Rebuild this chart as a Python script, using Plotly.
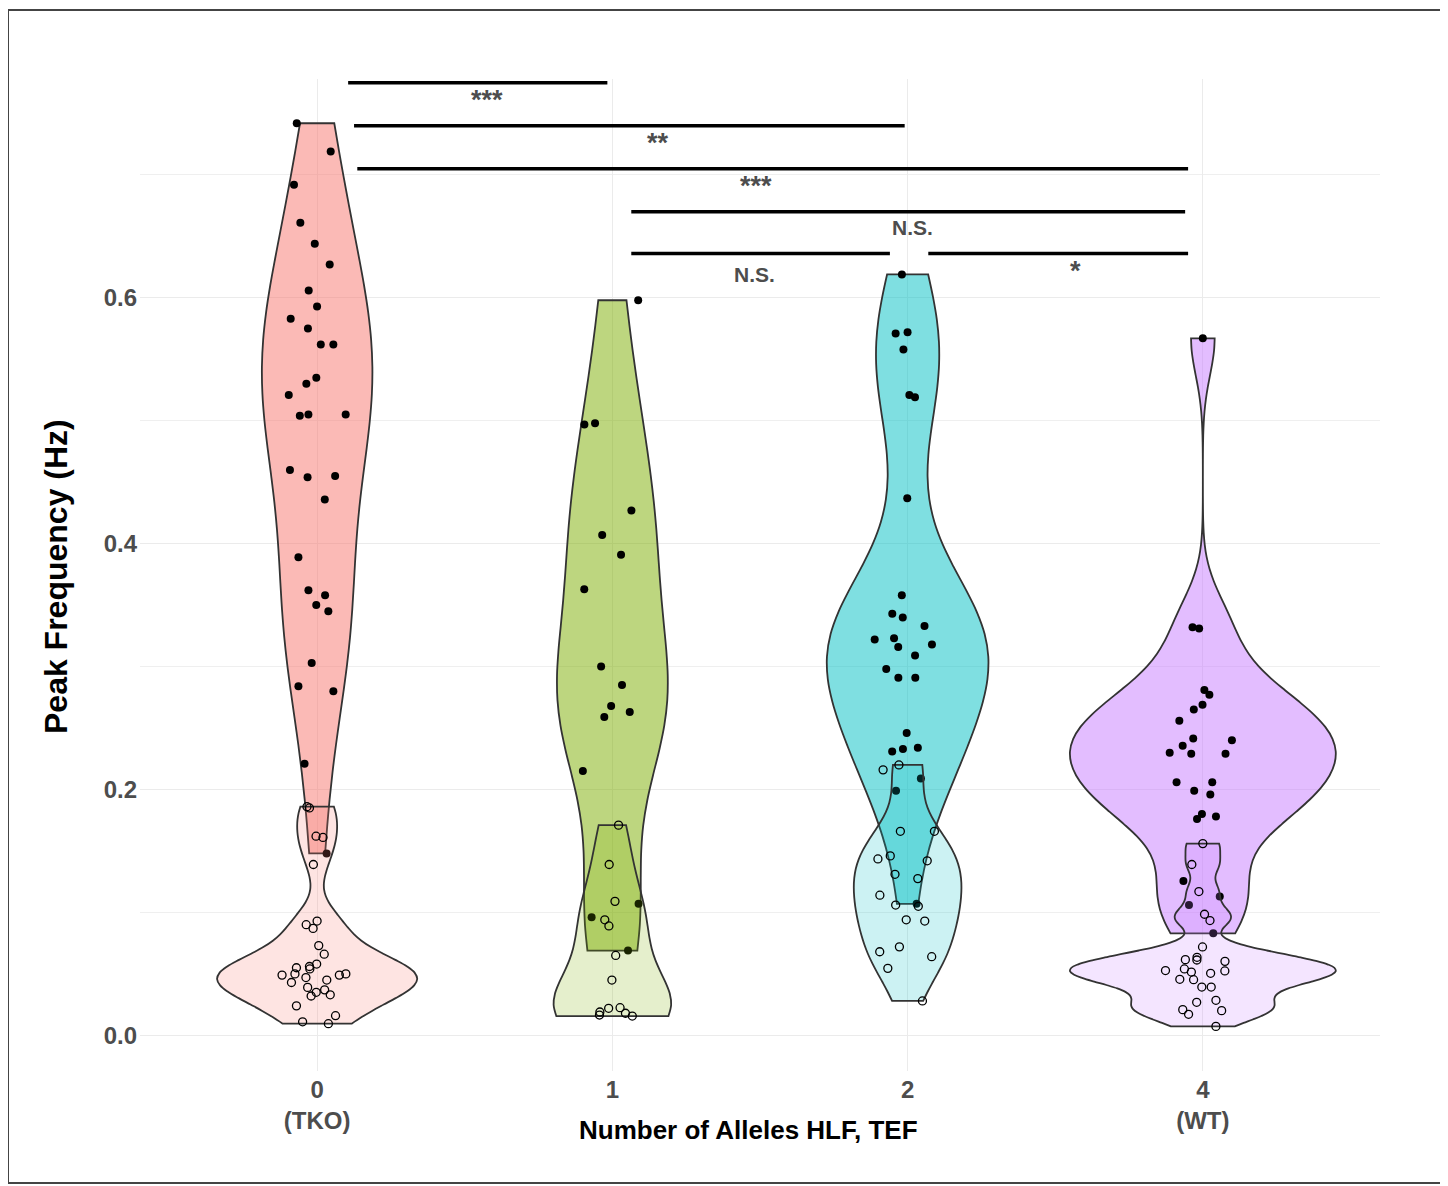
import numpy as np
import plotly.graph_objects as go

# ---------------- data ----------------
categories = ["0", "1", "2", "4"]
tick_text = ["0<br>(TKO)", "1", "2", "4<br>(WT)"]

g0_high = [0.742, 0.719, 0.692, 0.661, 0.644, 0.627, 0.606, 0.593, 0.583, 0.575, 0.562, 0.562,
           0.535, 0.530, 0.521, 0.505, 0.504, 0.505, 0.455, 0.460, 0.454, 0.436, 0.389, 0.358,
           0.350, 0.362, 0.345, 0.303, 0.280, 0.284, 0.221, 0.148]
g0_low = [0.185, 0.186, 0.162, 0.161, 0.139, 0.087, 0.090, 0.093, 0.073, 0.066, 0.056, 0.054,
          0.055, 0.058, 0.050, 0.050, 0.049, 0.049, 0.043, 0.045, 0.047, 0.032, 0.033, 0.039,
          0.035, 0.037, 0.024, 0.016, 0.011, 0.0095]

g1_high = [0.598, 0.498, 0.497, 0.427, 0.407, 0.391, 0.363, 0.300, 0.285, 0.268, 0.263, 0.259,
           0.215, 0.107, 0.096, 0.069]
g1_low = [0.171, 0.139, 0.109, 0.094, 0.089, 0.065, 0.045, 0.0225, 0.022, 0.019, 0.018, 0.0165,
          0.0157]

g2_high = [0.619, 0.571, 0.572, 0.558, 0.521, 0.519, 0.437, 0.358, 0.340, 0.333, 0.323, 0.316,
           0.322, 0.318, 0.309, 0.343, 0.298, 0.291, 0.291, 0.246, 0.233, 0.234, 0.231, 0.209,
           0.199, 0.107]
g2_low = [0.220, 0.216, 0.166, 0.166, 0.146, 0.1435, 0.142, 0.1275, 0.131, 0.114, 0.105, 0.106,
          0.093, 0.094, 0.072, 0.068, 0.064, 0.0545, 0.028]

g4_high = [0.567, 0.332, 0.331, 0.277, 0.281, 0.269, 0.265, 0.256, 0.2415, 0.240, 0.2355, 0.230,
           0.229, 0.229, 0.206, 0.206, 0.196, 0.199, 0.176, 0.178, 0.180, 0.1256, 0.113, 0.106,
           0.083]
g4_low = [0.156, 0.139, 0.117, 0.0985, 0.0934, 0.0719, 0.0616, 0.0635, 0.0602, 0.0613, 0.054,
          0.0527, 0.0515, 0.0524, 0.0505, 0.0456, 0.0453, 0.0393, 0.0393, 0.0285, 0.0269, 0.0209,
          0.0201, 0.0171, 0.0073]

high_series = [g0_high, g1_high, g2_high, g4_high]
low_series = [g0_low, g1_low, g2_low, g4_low]

base_colors = [(248, 118, 109), (124, 174, 0), (0, 191, 196), (199, 124, 255)]

# significance comparisons (x in category-position units, y in Hz)
sig_x0 = [0.105, 0.125, 0.136, 1.064, 1.064, 2.07]
sig_x1 = [0.983, 1.99, 2.95, 2.94, 1.94, 2.95]
sig_y = [0.775, 0.740, 0.705, 0.670, 0.636, 0.636]
sig_labels = ["***", "**", "***", "N.S.", "N.S.", "*"]
sig_label_x = [0.576, 1.156, 1.485, 2.017, 1.481, 2.57]
sig_label_y = [0.761, 0.726, 0.691, 0.657, 0.619, 0.622]

# ---------------- helpers ----------------
def bw_nrd0(x):
    x = np.asarray(x, dtype=float)
    hi = np.std(x, ddof=1)
    q75, q25 = np.percentile(x, [75, 25])
    lo = min(hi, (q75 - q25) / 1.34)
    if not lo:
        lo = hi or abs(x[0]) or 1.0
    return 0.9 * lo * len(x) ** (-0.2)


def kde_max(x, bw):
    x = np.asarray(x, dtype=float)
    grid = np.linspace(x.min(), x.max(), 512)
    z = (grid[:, None] - x[None, :]) / bw
    dens = np.exp(-0.5 * z ** 2).sum(axis=1) / (len(x) * bw * np.sqrt(2 * np.pi))
    return dens.max()


OFF = 8  # page body margin of the html page
W, H = 1448 - OFF, 1186 - OFF
# panel edges in page pixels
P_LEFT, P_RIGHT, P_TOP, P_BOTTOM = 140, 1380, 79, 1071
L, R, T, B = P_LEFT - OFF, (W + OFF) - P_RIGHT, P_TOP - OFF, (H + OFF) - P_BOTTOM
PW, PH = W - L - R, H - T - B


def px_x(px):
    return (px - OFF - L) / PW


def px_y(py):
    return (H - B - (py - OFF)) / PH


FONT = "Liberation Sans, Arial, Helvetica, sans-serif"
GREY = "#4D4D4D"
FULL_WIDTH = 0.9
JITTER_HALF = 0.13  # half-width of the point jitter, in category units


def layer_widths(series):
    bws = [bw_nrd0(v) for v in series]
    peaks = [kde_max(v, bw) for v, bw in zip(series, bws)]
    top = max(peaks)
    return bws, [FULL_WIDTH * p / top for p in peaks]


fig = go.Figure()

high_bw, high_w = layer_widths(high_series)
low_bw, low_w = layer_widths(low_series)

# high layer first (violin + filled points), then low layer on top
for i, vals in enumerate(high_series):
    r, g, b = base_colors[i]
    fig.add_trace(go.Violin(
        y=vals, x0=i, name=f"{categories[i]} high",
        width=high_w[i], side="both", spanmode="hard", bandwidth=high_bw[i],
        scalemode="width",
        fillcolor=f"rgba({r},{g},{b},0.5)",
        line=dict(color="#333333", width=1.8),
        points="all", pointpos=0, jitter=min(1.0, 2 * JITTER_HALF / high_w[i]),
        marker=dict(color="black", size=8, symbol="circle", line=dict(width=0)),
        box_visible=False, meanline_visible=False, hoverinfo="skip", showlegend=False,
    ))

for i, vals in enumerate(low_series):
    r, g, b = base_colors[i]
    fig.add_trace(go.Violin(
        y=vals, x0=i, name=f"{categories[i]} low",
        width=low_w[i], side="both", spanmode="hard", bandwidth=low_bw[i],
        scalemode="width",
        fillcolor=f"rgba({r},{g},{b},0.2)",
        line=dict(color="#333333", width=1.8),
        points="all", pointpos=0, jitter=min(1.0, 2 * JITTER_HALF / low_w[i]),
        marker=dict(color="black", size=8, symbol="circle-open", line=dict(width=1.3, color="black")),
        box_visible=False, meanline_visible=False, hoverinfo="skip", showlegend=False,
    ))

shapes = []
annotations = []
for x0, x1, y, lab, lx, ly in zip(sig_x0, sig_x1, sig_y, sig_labels, sig_label_x, sig_label_y):
    shapes.append(dict(type="line", xref="x", yref="y", x0=x0, x1=x1, y0=y, y1=y,
                       line=dict(color="black", width=3.5)))
    size = 27 if lab.startswith("*") else 21
    annotations.append(dict(x=lx, y=ly, xref="x", yref="y", text=lab, showarrow=False,
                            xanchor="center", yanchor="middle",
                            font=dict(family=FONT, size=size, color=GREY, weight="bold")))

# outer frame of the figure
shapes.append(dict(type="rect", xref="paper", yref="paper",
                   x0=px_x(8), x1=px_x(1443), y0=px_y(1183), y1=px_y(10),
                   line=dict(color="#444444", width=2), fillcolor="rgba(0,0,0,0)", layer="below"))

# axis titles
annotations.append(dict(x=px_x(748), y=px_y(1130), xref="paper", yref="paper",
                        text="Number of Alleles HLF, TEF", showarrow=False,
                        xanchor="center", yanchor="middle",
                        font=dict(family=FONT, size=26, color="black", weight="bold")))
annotations.append(dict(x=px_x(56), y=px_y(576), xref="paper", yref="paper",
                        text="Peak Frequency (Hz)", showarrow=False, textangle=-90,
                        xanchor="center", yanchor="middle",
                        font=dict(family=FONT, size=32, color="black", weight="bold")))

fig.update_layout(
    width=W, height=H,
    margin=dict(l=L, r=R, t=T, b=B, autoexpand=False),
    paper_bgcolor="white", plot_bgcolor="white",
    violinmode="overlay",
    showlegend=False,
    shapes=shapes,
    annotations=annotations,
    font=dict(family=FONT),
)
fig.update_xaxes(
    range=[-0.6, 3.6], tickvals=[0, 1, 2, 3], ticktext=tick_text,
    tickfont=dict(family=FONT, size=24, color=GREY, weight="bold"),
    showgrid=True, gridcolor="#EBEBEB", gridwidth=1.2, zeroline=False, showline=False,
    ticks="", ticklabelstandoff=2,
)
fig.update_yaxes(
    range=[-0.029, 0.778], tickvals=[0.0, 0.2, 0.4, 0.6], tickformat=".1f",
    tickfont=dict(family=FONT, size=24, color=GREY, weight="bold"),
    showgrid=True, gridcolor="#EBEBEB", gridwidth=1.2, zeroline=False, showline=False,
    ticks="", ticklabelstandoff=2,
    minor=dict(tickvals=[0.1, 0.3, 0.5, 0.7], showgrid=True, gridcolor="#EFEFEF", gridwidth=1),
)

fig.write_html("out.html")
